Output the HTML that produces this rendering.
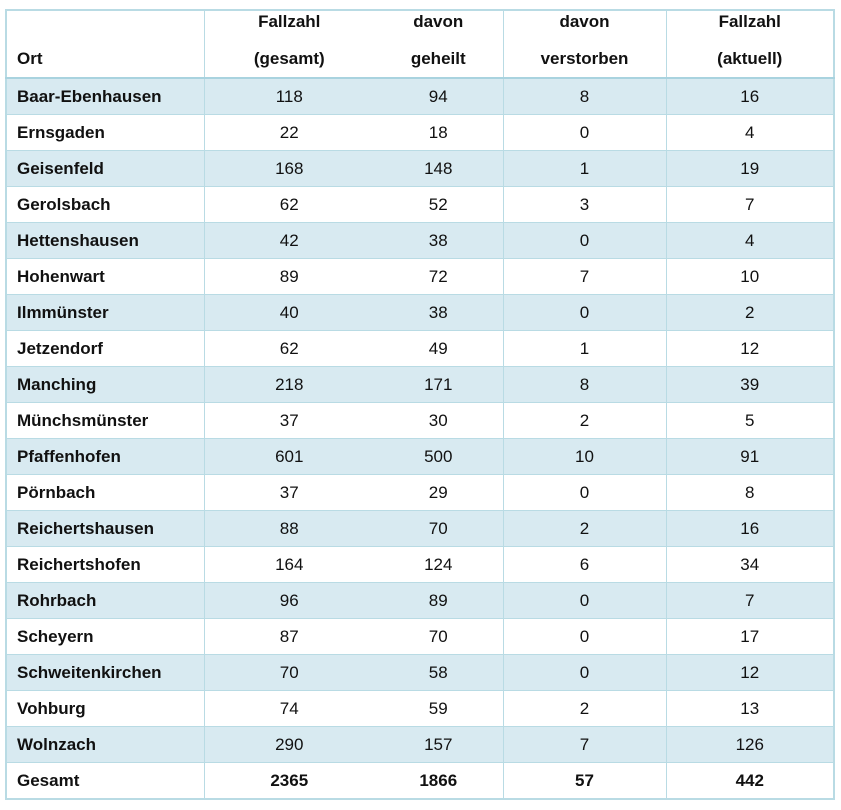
<!DOCTYPE html>
<html><head><meta charset="utf-8"><style>
body{margin:0;background:#fff;width:841px;height:810px;overflow:hidden;font-family:"Liberation Sans",Arial,sans-serif;color:#111}
table{position:absolute;left:5px;top:9px;border-collapse:collapse;font-size:17px;table-layout:fixed;width:828px;border:2px solid #b9dbe4}
td,th{height:35px;padding:0;border-top:1px solid #b9dbe4;text-align:center;overflow:hidden;white-space:nowrap}
th{font-weight:bold;vertical-align:top;height:66px;border-bottom:2px solid #a9d3df}
th div{line-height:22px}
th div+div{margin-top:15px}
td:first-child,th:first-child{text-align:left;padding-left:10px;font-weight:bold}
tr.s td{background:#d8eaf1}
.v{border-left:1px solid #b9dbe4}
tr.t td{font-weight:bold}
</style></head><body>
<table>
<colgroup><col style="width:198px"><col style="width:170px"><col style="width:129px"><col style="width:163px"><col style="width:168px"></colgroup>
<tr><th><div>&nbsp;</div><div>Ort</div></th><th class="v"><div>Fallzahl</div><div>(gesamt)</div></th><th><div>davon</div><div>geheilt</div></th><th class="v"><div>davon</div><div>verstorben</div></th><th class="v"><div>Fallzahl</div><div>(aktuell)</div></th></tr>
<tr class="s"><td>Baar-Ebenhausen</td><td class="v">118</td><td>94</td><td class="v">8</td><td class="v">16</td></tr>
<tr><td>Ernsgaden</td><td class="v">22</td><td>18</td><td class="v">0</td><td class="v">4</td></tr>
<tr class="s"><td>Geisenfeld</td><td class="v">168</td><td>148</td><td class="v">1</td><td class="v">19</td></tr>
<tr><td>Gerolsbach</td><td class="v">62</td><td>52</td><td class="v">3</td><td class="v">7</td></tr>
<tr class="s"><td>Hettenshausen</td><td class="v">42</td><td>38</td><td class="v">0</td><td class="v">4</td></tr>
<tr><td>Hohenwart</td><td class="v">89</td><td>72</td><td class="v">7</td><td class="v">10</td></tr>
<tr class="s"><td>Ilmmünster</td><td class="v">40</td><td>38</td><td class="v">0</td><td class="v">2</td></tr>
<tr><td>Jetzendorf</td><td class="v">62</td><td>49</td><td class="v">1</td><td class="v">12</td></tr>
<tr class="s"><td>Manching</td><td class="v">218</td><td>171</td><td class="v">8</td><td class="v">39</td></tr>
<tr><td>Münchsmünster</td><td class="v">37</td><td>30</td><td class="v">2</td><td class="v">5</td></tr>
<tr class="s"><td>Pfaffenhofen</td><td class="v">601</td><td>500</td><td class="v">10</td><td class="v">91</td></tr>
<tr><td>Pörnbach</td><td class="v">37</td><td>29</td><td class="v">0</td><td class="v">8</td></tr>
<tr class="s"><td>Reichertshausen</td><td class="v">88</td><td>70</td><td class="v">2</td><td class="v">16</td></tr>
<tr><td>Reichertshofen</td><td class="v">164</td><td>124</td><td class="v">6</td><td class="v">34</td></tr>
<tr class="s"><td>Rohrbach</td><td class="v">96</td><td>89</td><td class="v">0</td><td class="v">7</td></tr>
<tr><td>Scheyern</td><td class="v">87</td><td>70</td><td class="v">0</td><td class="v">17</td></tr>
<tr class="s"><td>Schweitenkirchen</td><td class="v">70</td><td>58</td><td class="v">0</td><td class="v">12</td></tr>
<tr><td>Vohburg</td><td class="v">74</td><td>59</td><td class="v">2</td><td class="v">13</td></tr>
<tr class="s"><td>Wolnzach</td><td class="v">290</td><td>157</td><td class="v">7</td><td class="v">126</td></tr>
<tr class="t"><td>Gesamt</td><td class="v">2365</td><td>1866</td><td class="v">57</td><td class="v">442</td></tr>
</table>
</body></html>
